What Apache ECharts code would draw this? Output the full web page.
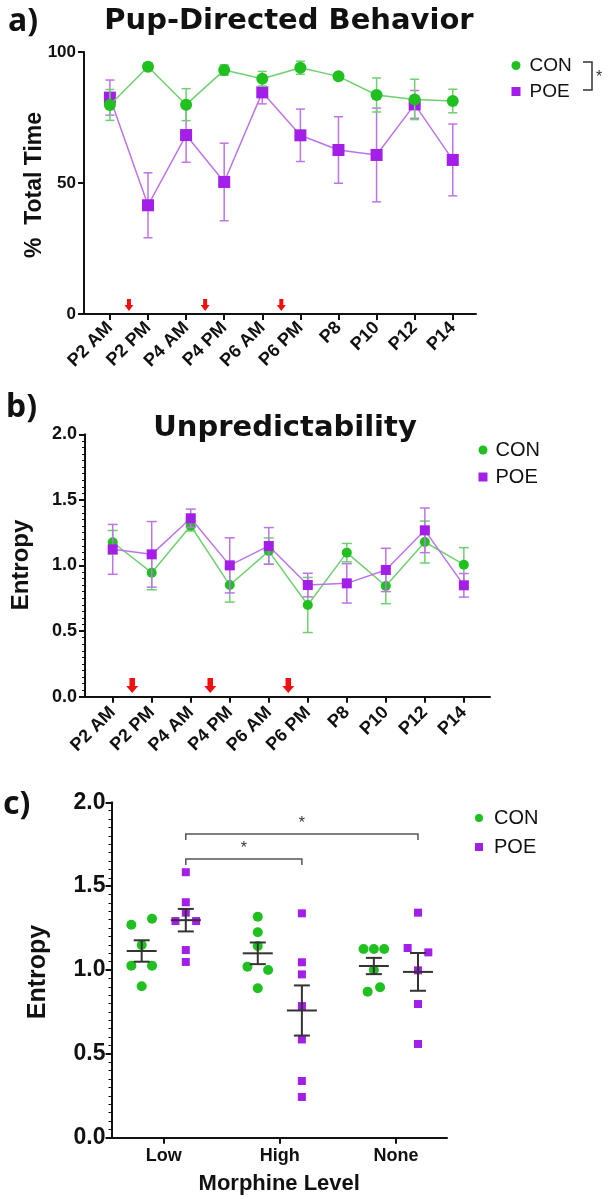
<!DOCTYPE html>
<html><head><meta charset="utf-8">
<script src="https://cdn.jsdelivr.net/npm/echarts@6/dist/echarts.min.js"></script>
<style>html,body{margin:0;padding:0;background:#fff}#c{width:612px;height:1199px}</style>
</head><body><div id="c"></div>
<script>
// ---------- DATA ----------
const timepoints = ['P2 AM','P2 PM','P4 AM','P4 PM','P6 AM','P6 PM','P8','P10','P12','P14'];
const groupNames = ['CON','POE'];
// a) Pup-directed behavior (% total time), mean and SEM
const pupCON    = [79.8, 94.4, 79.9, 93.1, 89.8, 94.0, 90.7, 83.6, 81.9, 81.3];
const pupCONsem = [5.9, 1.5, 6.1, 2.0, 2.8, 2.5, 0.8, 6.5, 7.7, 4.5];
const pupPOE    = [82.6, 41.5, 68.3, 50.4, 84.6, 68.2, 62.6, 60.7, 80.0, 58.8];
const pupPOEsem = [6.7, 12.4, 10.4, 14.8, 4.4, 10.0, 12.7, 17.9, 5.3, 13.7];
// b) Unpredictability (entropy), mean and SEM
const entCON    = [1.177, 0.945, 1.303, 0.851, 1.110, 0.699, 1.098, 0.844, 1.179, 1.006];
const entCONsem = [0.09, 0.13, 0.04, 0.13, 0.10, 0.21, 0.07, 0.135, 0.16, 0.13];
const entPOE    = [1.123, 1.085, 1.360, 1.001, 1.149, 0.851, 0.864, 0.966, 1.268, 0.849];
const entPOEsem = [0.19, 0.25, 0.07, 0.21, 0.14, 0.09, 0.15, 0.165, 0.17, 0.09];
// injections happen between these timepoints (index positions)
const injectionPositions = [0.5, 2.5, 4.5];
// c) Entropy by morphine level (individual animals)
const morphineLevels = ['Low','High','None'];
const conLow  = [1.270, 1.306, 1.149, 1.026, 1.026, 0.903];
const conHigh = [1.318, 1.225, 1.143, 1.020, 1.000, 0.891];
const conNone = [1.125, 1.125, 1.125, 1.000, 0.871, 0.897];
const poeLow  = [1.583, 1.404, 1.342, 1.292, 1.292, 1.119, 1.048];
const poeHigh = [1.338, 1.046, 0.974, 0.785, 0.586, 0.338, 0.243];
const poeNone = [1.342, 1.131, 1.105, 0.998, 0.797, 0.559];
// significance comparisons among POE groups (level indices)
const comparisons = [[0, 1], [0, 2]];
const compLabels = ['*', '*'];
// tick labels
const yTicksA = [0, 50, 100];
const yTicksB = [0, 0.5, 1.0, 1.5, 2.0];

// ---------- LAYOUT / STYLE ----------
const GREEN = '#1fc01f', GREEN_L = '#6fd06f';
const PURPLE = '#a31ee6', PURPLE_L = '#bd74e8';
const INK = '#111';
const FONT = '"Liberation Sans", Arial, sans-serif';
const TFONT = '"DejaVu Sans", sans-serif';
const jitterA = [[-1,1,0,-1,1,0],[0,0,0,-1,1,0],[-1,0,1,0,-0.6,0.6]];
const jitterB = [[0,0,0,-1,1,0,0],[0,0,0,0,0,0,0],[0,-1,1,0,0,0]];
const bracketHeights = [1.662, 1.811];

const idx = timepoints.map((_, i) => i);
const lvlIdx = morphineLevels.map((_, i) => i);

function pts(vals){ return vals.map((v,i)=>[i,v]); }
function errPts(vals, sems){ return vals.map((v,i)=>[i,v,sems[i]]); }
function meanSem(vals){
  const n = vals.length, m = vals.reduce((a,b)=>a+b,0)/n;
  const sd = Math.sqrt(vals.reduce((a,b)=>a+(b-m)*(b-m),0)/(n-1));
  return [m, sd/Math.sqrt(n)];
}
function errRender(cap, color, lw){
  return function(params, api){
    const x = api.value(0), y = api.value(1), e = api.value(2);
    const t = api.coord([x, y+e]), b = api.coord([x, y-e]);
    const st = {stroke: color, lineWidth: lw};
    return {type:'group', children:[
      {type:'line', shape:{x1:t[0],y1:t[1],x2:b[0],y2:b[1]}, style:st},
      {type:'line', shape:{x1:t[0]-cap,y1:t[1],x2:t[0]+cap,y2:t[1]}, style:st},
      {type:'line', shape:{x1:b[0]-cap,y1:b[1],x2:b[0]+cap,y2:b[1]}, style:st}
    ]};
  };
}
function arrowRender(tipVal, H, W, S, HH){
  return function(params, api){
    const p = api.coord([api.value(0), tipVal]);
    const x = p[0], y = p[1];
    return {type:'polygon', shape:{points:[
      [x-S/2, y-H],[x+S/2, y-H],[x+S/2, y-HH],[x+W/2, y-HH],[x, y],[x-W/2, y-HH],[x-S/2, y-HH]
    ]}, style:{fill:'#f01010'}};
  };
}
function meanRender(params, api){
  const x = api.value(0), m = api.value(1), s = api.value(2);
  const c = api.coord([x, m]), t = api.coord([x, m+s]), b = api.coord([x, m-s]);
  const st = {stroke:'#333', lineWidth:2};
  return {type:'group', children:[
    {type:'line', shape:{x1:c[0]-15,y1:c[1],x2:c[0]+15,y2:c[1]}, style:st},
    {type:'line', shape:{x1:t[0],y1:t[1],x2:b[0],y2:b[1]}, style:st},
    {type:'line', shape:{x1:t[0]-8,y1:t[1],x2:t[0]+8,y2:t[1]}, style:st},
    {type:'line', shape:{x1:b[0]-8,y1:b[1],x2:b[0]+8,y2:b[1]}, style:st}
  ]};
}
function bracketRender(params, api){
  const x1 = api.value(0), x2 = api.value(1), y = api.value(2);
  const p1 = api.coord([x1, y]), p2 = api.coord([x2, y]);
  const drop = 6;
  const lbl = compLabels[params.dataIndex];
  return {type:'group', children:[
    {type:'polyline', shape:{points:[[p1[0],p1[1]+drop],[p1[0],p1[1]],[p2[0],p2[1]],[p2[0],p2[1]+drop]]},
     style:{stroke:'#555', lineWidth:1.5, fill:null}},
    {type:'text', x:(p1[0]+p2[0])/2, y:p1[1]-2, style:{text:lbl, fontSize:16, fontFamily:FONT, fill:'#333', align:'center', verticalAlign:'bottom'}}
  ]};
}

const OFF_CON = -0.19, OFF_POE = 0.19, JSTEP = 0.089;
const conGroups = [conLow, conHigh, conNone];
const poeGroups = [poeLow, poeHigh, poeNone];
function dots(groups, jit, off){
  const out = [];
  groups.forEach((vals,g)=>vals.forEach((v,k)=>out.push([g+off+jit[g][k]*JSTEP, v])));
  return out;
}
const conMeans = conGroups.map((g,i)=>{const ms=meanSem(g); return [i+OFF_CON, ms[0], ms[1]];});
const poeMeans = poeGroups.map((g,i)=>{const ms=meanSem(g); return [i+OFF_POE, ms[0], ms[1]];});
const bracketData = comparisons.map((c,i)=>[c[0]+OFF_POE, c[1]+OFF_POE, bracketHeights[i]]);

const axisLineStyle = {color: INK, width: 2};
function yAxisBase(grid, extra){
  return Object.assign({
    gridIndex: grid, type:'value', splitLine:{show:false},
    axisLine:{show:true, onZero:false, lineStyle:axisLineStyle},
    axisTick:{show:true, length:6, lineStyle:{color:INK, width:2}}
  }, extra);
}
function xLabelAxis(grid, min, max, margin){
  return {gridIndex:grid, type:'value', min:min, max:max, splitLine:{show:false},
     axisLine:{onZero:false, lineStyle:axisLineStyle},
     axisTick:{customValues:idx, length:6, lineStyle:{color:INK, width:2}},
     axisLabel:{customValues:idx, formatter:v=>timepoints[v], rotate:45, fontSize:18, fontWeight:'bold', color:INK, margin:margin, fontFamily:FONT}};
}
const legendData = [{name:groupNames[0], icon:'circle', itemStyle:{color:GREEN}},{name:groupNames[1], icon:'rect', itemStyle:{color:PURPLE}}];

const chart = echarts.init(document.getElementById('c'));
chart.setOption({
  animation:false,
  backgroundColor:'#fff',
  textStyle:{fontFamily:FONT},
  grid:[
    {left:84, top:52, width:392, height:262},
    {left:85, top:434.3, width:405, height:262.4},
    {left:111.5, top:802.3, width:335.5, height:335.4}
  ],
  xAxis:[
    xLabelAxis(0, -0.68, 9.61, 11),
    xLabelAxis(1, -0.71, 9.67, 13),
    {gridIndex:2, type:'value', min:-0.45, max:2.44, splitLine:{show:false},
     axisLine:{onZero:false, lineStyle:axisLineStyle},
     axisTick:{customValues:lvlIdx, length:6, lineStyle:{color:INK, width:2}},
     axisLabel:{customValues:lvlIdx, formatter:v=>morphineLevels[v], fontSize:18, fontWeight:'bold', color:INK, margin:9, fontFamily:FONT},
     name:'Morphine Level', nameLocation:'middle', nameGap:35,
     nameTextStyle:{fontSize:22, fontWeight:'bold', color:INK, fontFamily:FONT}}
  ],
  yAxis:[
    yAxisBase(0, {min:yTicksA[0], max:yTicksA[yTicksA.length-1], interval:yTicksA[1]-yTicksA[0],
      axisLabel:{fontSize:17, fontWeight:'bold', color:INK, margin:8, fontFamily:FONT}}),
    yAxisBase(1, {min:yTicksB[0], max:yTicksB[yTicksB.length-1], interval:yTicksB[1]-yTicksB[0],
      minorTick:{show:true, splitNumber:10, length:3, lineStyle:{color:INK, width:1}},
      axisLabel:{fontSize:18, fontWeight:'bold', color:INK, margin:8, formatter:v=>v.toFixed(1), fontFamily:FONT}}),
    yAxisBase(2, {min:yTicksB[0], max:yTicksB[yTicksB.length-1], interval:yTicksB[1]-yTicksB[0],
      minorTick:{show:true, splitNumber:10, length:3, lineStyle:{color:INK, width:1}},
      axisLabel:{fontSize:23, fontWeight:'bold', color:INK, margin:6, formatter:v=>v.toFixed(1), fontFamily:FONT}})
  ],
  legend:[
    {orient:'vertical', left:511.5, top:56, padding:0, itemWidth:9, itemHeight:9, itemGap:7, selectedMode:false,
     textStyle:{fontSize:19, lineHeight:18, color:INK, padding:[0,0,0,4], fontFamily:FONT}, data:legendData},
    {orient:'vertical', left:478.5, top:440, padding:0, itemWidth:9, itemHeight:9, itemGap:7, selectedMode:false,
     textStyle:{fontSize:20, lineHeight:20, color:INK, padding:[0,0,0,3], fontFamily:FONT}, data:legendData},
    {orient:'vertical', left:475, top:808, padding:0, itemWidth:8, itemHeight:8, itemGap:9, selectedMode:false,
     textStyle:{fontSize:20, lineHeight:20, color:INK, padding:[0,0,0,6], fontFamily:FONT}, data:legendData}
  ],
  graphic:[
    {type:'text', x:8, y:22, style:{text:'a)', fontSize:32, fontWeight:'bold', fontFamily:'"Noto Sans", sans-serif', fill:INK, verticalAlign:'middle'}},
    {type:'text', x:289, y:21, style:{text:'Pup-Directed Behavior', fontSize:29, fontWeight:'bold', fontFamily:TFONT, fill:INK, align:'center', verticalAlign:'middle'}},
    {type:'text', x:6, y:408, style:{text:'b)', fontSize:32, fontWeight:'bold', fontFamily:'"Noto Sans", sans-serif', fill:INK, verticalAlign:'middle'}},
    {type:'text', x:285, y:428, style:{text:'Unpredictability', fontSize:29, fontWeight:'bold', fontFamily:TFONT, fill:INK, align:'center', verticalAlign:'middle'}},
    {type:'text', x:3, y:805, style:{text:'c)', fontSize:32, fontWeight:'bold', fontFamily:'"Noto Sans", sans-serif', fill:INK, verticalAlign:'middle'}},
    {type:'text', x:35, y:185, rotation:Math.PI/2, style:{text:'%  Total Time', fontSize:23, fontWeight:'bold', fontFamily:FONT, fill:INK, align:'center', verticalAlign:'middle'}},
    {type:'text', x:21, y:565, rotation:Math.PI/2, style:{text:'Entropy', fontSize:24, fontWeight:'bold', fontFamily:FONT, fill:INK, align:'center', verticalAlign:'middle'}},
    {type:'text', x:38, y:972, rotation:Math.PI/2, style:{text:'Entropy', fontSize:25, fontWeight:'bold', fontFamily:FONT, fill:INK, align:'center', verticalAlign:'middle'}},
    {type:'polyline', shape:{points:[[583,62],[592,62],[592,90],[583,90]]}, style:{stroke:'#333', lineWidth:1.5, fill:null}},
    {type:'text', x:596, y:78, style:{text:'*', fontSize:16, fontFamily:FONT, fill:'#333', verticalAlign:'middle'}}
  ],
  series:[
    // ---- panel a ----
    {type:'custom', name:'POE SEM a', xAxisIndex:0, yAxisIndex:0, renderItem:errRender(4.5, PURPLE_L, 1.5), data:errPts(pupPOE, pupPOEsem), z:2},
    {type:'line', name:'POE', xAxisIndex:0, yAxisIndex:0, data:pts(pupPOE), symbol:'rect', symbolSize:12,
     lineStyle:{color:PURPLE_L, width:1.5}, itemStyle:{color:PURPLE}, z:3},
    {type:'custom', name:'CON SEM a', xAxisIndex:0, yAxisIndex:0, renderItem:errRender(4.5, GREEN_L, 1.5), data:errPts(pupCON, pupCONsem), z:4},
    {type:'line', name:'CON', xAxisIndex:0, yAxisIndex:0, data:pts(pupCON), symbol:'circle', symbolSize:12,
     lineStyle:{color:GREEN_L, width:1.5}, itemStyle:{color:GREEN}, z:5},
    {type:'custom', name:'injection a', xAxisIndex:0, yAxisIndex:0, renderItem:arrowRender(1.1, 12, 9, 4, 6), data:injectionPositions.map(p=>[p, 0]), z:6},
    // ---- panel b ----
    {type:'custom', name:'CON SEM b', xAxisIndex:1, yAxisIndex:1, renderItem:errRender(5, GREEN_L, 1.5), data:errPts(entCON, entCONsem), z:2},
    {type:'line', name:'CON', xAxisIndex:1, yAxisIndex:1, data:pts(entCON), symbol:'circle', symbolSize:10,
     lineStyle:{color:GREEN_L, width:1.5}, itemStyle:{color:GREEN}, z:3},
    {type:'custom', name:'POE SEM b', xAxisIndex:1, yAxisIndex:1, renderItem:errRender(5, PURPLE_L, 1.5), data:errPts(entPOE, entPOEsem), z:4},
    {type:'line', name:'POE', xAxisIndex:1, yAxisIndex:1, data:pts(entPOE), symbol:'rect', symbolSize:10,
     lineStyle:{color:PURPLE_L, width:1.5}, itemStyle:{color:PURPLE}, z:5},
    {type:'custom', name:'injection b', xAxisIndex:1, yAxisIndex:1, renderItem:arrowRender(0.028, 15, 12, 5.5, 7), data:injectionPositions.map(p=>[p, 0]), z:6},
    // ---- panel c ----
    {type:'scatter', name:'CON', xAxisIndex:2, yAxisIndex:2, data:dots(conGroups, jitterA, OFF_CON), symbol:'circle', symbolSize:10, itemStyle:{color:GREEN, opacity:1}, z:3},
    {type:'scatter', name:'POE', xAxisIndex:2, yAxisIndex:2, data:dots(poeGroups, jitterB, OFF_POE), symbol:'rect', symbolSize:8, itemStyle:{color:PURPLE, opacity:1}, z:3},
    {type:'custom', name:'CON mean', xAxisIndex:2, yAxisIndex:2, renderItem:meanRender, data:conMeans, z:4},
    {type:'custom', name:'POE mean', xAxisIndex:2, yAxisIndex:2, renderItem:meanRender, data:poeMeans, z:4},
    {type:'custom', name:'comparisons', xAxisIndex:2, yAxisIndex:2, renderItem:bracketRender, data:bracketData, z:4}
  ]
});
</script></body></html>
